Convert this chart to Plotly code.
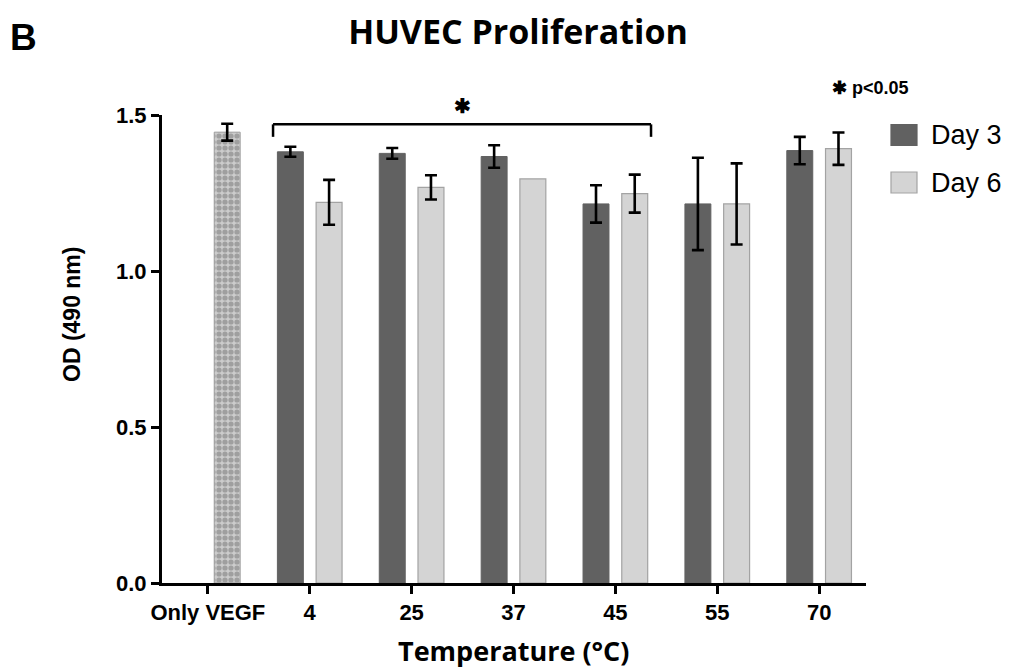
import plotly.graph_objects as go

# ---------------- data ----------------
categories = ["Only VEGF", "4", "25", "37", "45", "55", "70"]
day3_values = [None, 1.382, 1.377, 1.367, 1.215, 1.215, 1.386]
day3_errors = [None, 0.016, 0.017, 0.036, 0.060, 0.148, 0.044]
day6_values = [None, 1.220, 1.268, 1.295, 1.248, 1.215, 1.392]
day6_errors = [None, 0.072, 0.039, None, 0.061, 0.130, 0.052]
vegf_category = ["Only VEGF"]
vegf_values = [1.445]
vegf_errors = [0.027]
y_ticks = [0.0, 0.5, 1.0, 1.5]

# ---------------- styles ----------------
DARK = "#616161"
LIGHT = "#d4d4d4"
LIGHT_LINE = "#a3a3a3"
CHECK_BG = "#cccccc"
CHECK_FG = "#9f9f9f"
ARIAL = "Liberation Sans, Arial, sans-serif"
GOTHIC = "Open Sans, Noto Sans, sans-serif"

# page layout (reference pixel frame; the page body adds an 8 px offset)
OFF = 8
W, H = 1012, 671
PL, PR, PT, PB = 162, 866, 115, 583  # plot area edges in reference pixels


def px_x(px):
    return (px - PL) / (PR - PL)


def px_y(py):
    return (PB - py) / (PB - PT)


err_style = dict(type="data", color="black", thickness=2.6, width=6)

fig = go.Figure()
fig.add_trace(go.Bar(
    name="Day 3", x=categories, y=day3_values, offsetgroup="a",
    marker=dict(color=DARK, line=dict(color=DARK, width=1)),
    error_y=dict(array=day3_errors, **err_style),
    cliponaxis=False, showlegend=False,
))

# Day 6: points with and without error bars share one offset group
d6_err_x = [c for c, v, e in zip(categories, day6_values, day6_errors) if v is not None and e is not None]
d6_err_y = [v for v, e in zip(day6_values, day6_errors) if v is not None and e is not None]
d6_err_e = [e for v, e in zip(day6_values, day6_errors) if v is not None and e is not None]
d6_noerr_x = [c for c, v, e in zip(categories, day6_values, day6_errors) if v is not None and e is None]
d6_noerr_y = [v for v, e in zip(day6_values, day6_errors) if v is not None and e is None]
day6_marker = dict(color=LIGHT, line=dict(color=LIGHT_LINE, width=1.2))
fig.add_trace(go.Bar(
    name="Day 6", x=d6_err_x, y=d6_err_y, offsetgroup="b", marker=day6_marker,
    error_y=dict(array=d6_err_e, **err_style),
    cliponaxis=False, showlegend=False,
))
fig.add_trace(go.Bar(
    name="Day 6", x=d6_noerr_x, y=d6_noerr_y, offsetgroup="b", marker=day6_marker,
    cliponaxis=False, showlegend=False,
))
fig.add_trace(go.Bar(
    name="Only VEGF", x=vegf_category, y=vegf_values, offsetgroup="b",
    marker=dict(color=CHECK_BG, line=dict(color=CHECK_FG, width=1),
                pattern=dict(shape=".", size=6, solidity=0.6,
                             fgcolor=CHECK_FG, bgcolor=CHECK_BG, fillmode="replace")),
    error_y=dict(array=vegf_errors, **err_style),
    cliponaxis=False, showlegend=False,
))

# significance bracket spanning the 4 .. 45 groups
i_left = categories.index("4") - 0.36
i_right = categories.index("45") + 0.35
br_y, br_drop = 1.47, 1.43
line_k = dict(color="black", width=2.5)
fig.add_shape(type="line", xref="x", yref="y", x0=i_left, x1=i_right, y0=br_y, y1=br_y, line=line_k)
fig.add_shape(type="line", xref="x", yref="y", x0=i_left, x1=i_left, y0=br_y, y1=br_drop, line=line_k)
fig.add_shape(type="line", xref="x", yref="y", x0=i_right, x1=i_right, y0=br_y, y1=br_drop, line=line_k)
fig.add_annotation(x=(i_left + i_right) / 2, y=px_y(106), xref="x", yref="paper", text="<b>✱</b>",
                   showarrow=False, yanchor="middle",
                   font=dict(family=ARIAL, size=20, color="black"))

# custom legend
legend_items = [("Day 3", DARK, DARK, 135), ("Day 6", LIGHT, LIGHT_LINE, 182.5)]
for label, fill, edge, cy in legend_items:
    fig.add_shape(type="rect", xref="paper", yref="paper",
                  x0=px_x(891), x1=px_x(917), y0=px_y(cy + 10.5), y1=px_y(cy - 10.5),
                  fillcolor=fill, line=dict(color=edge, width=1.2))
    fig.add_annotation(x=px_x(929), y=px_y(cy), xref="paper", yref="paper", text=label,
                       showarrow=False, xanchor="left", yanchor="middle",
                       font=dict(family=ARIAL, size=27, color="black"))

fig.add_annotation(x=px_x(830), y=px_y(88), xref="paper", yref="paper",
                   text="<b>✱ p&lt;0.05</b>", showarrow=False, xanchor="left", yanchor="middle",
                   font=dict(family=ARIAL, size=18, color="black"))

# panel letter
fig.add_annotation(x=px_x(23), y=px_y(38), xref="paper", yref="paper", text="<b>B</b>",
                   showarrow=False, xanchor="center", yanchor="middle",
                   font=dict(family=ARIAL, size=37, color="black"))

# axis titles
fig.add_annotation(x=px_x(72), y=px_y(315), xref="paper", yref="paper",
                   text="<b>OD (490 nm)</b>", textangle=-90, showarrow=False,
                   xanchor="center", yanchor="middle",
                   font=dict(family=ARIAL, size=23, color="black"))
fig.add_annotation(x=px_x(513), y=px_y(650), xref="paper", yref="paper",
                   text="<b>Temperature (°C)</b>", showarrow=False,
                   xanchor="center", yanchor="middle",
                   font=dict(family=GOTHIC, size=27, color="black"))

fig.update_layout(
    width=W - OFF, height=H - OFF,
    margin=dict(l=PL - OFF, r=W - PR, t=PT - OFF, b=H - PB),
    paper_bgcolor="white", plot_bgcolor="white",
    barmode="group", bargap=0.24, bargroupgap=0.33,
    showlegend=False,
    title=dict(text="<b>HUVEC Proliferation</b>", x=(518 - OFF) / (W - OFF), xanchor="center",
               y=1 - (32 - OFF) / (H - OFF), yanchor="middle",
               font=dict(family=GOTHIC, size=34, color="black")),
    xaxis=dict(
        type="category", categoryorder="array", categoryarray=categories,
        range=[-0.45, 6.46],
        showline=True, linecolor="black", linewidth=3,
        ticks="outside", ticklen=8, tickwidth=3, tickcolor="black",
        tickfont=dict(family=ARIAL, size=22, color="black", weight="bold"),
        showgrid=False, zeroline=False,
    ),
    yaxis=dict(
        range=[0, 1.5], tickvals=y_ticks, tickformat=".1f",
        showline=True, linecolor="black", linewidth=3,
        ticks="outside", ticklen=8, tickwidth=3, tickcolor="black",
        tickfont=dict(family=ARIAL, size=22, color="black", weight="bold"),
        showgrid=False, zeroline=False,
    ),
)

fig.write_html("out.html")
